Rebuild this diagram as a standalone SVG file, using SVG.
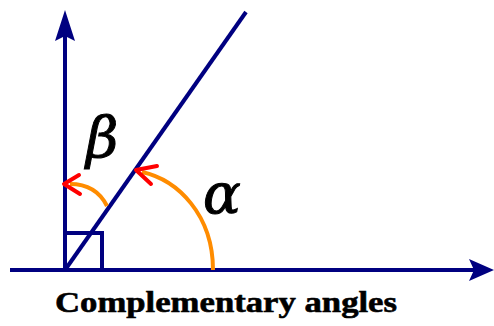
<svg xmlns="http://www.w3.org/2000/svg" width="494" height="326" viewBox="0 0 494 326">
<style>
.ln{stroke:#000080;stroke-width:4;fill:none}
.hd{fill:#000080}
.arc{stroke:#ff8c00;stroke-width:4;fill:none}
.rd{stroke:#ff0000;stroke-width:4;fill:none;stroke-linecap:round;stroke-linejoin:round}
.gr{font-family:"DejaVu Serif",serif;font-style:italic;fill:#000;stroke:#000;stroke-width:1}
.cap{font-family:"Liberation Serif",serif;font-weight:bold;font-size:30px;fill:#000;stroke:#000;stroke-width:0.6}
</style>
<rect width="494" height="326" fill="#fff"/>
<g id="axes">
<line class="ln" x1="10" y1="270" x2="478" y2="270"/>
<polygon class="hd" points="494,270 469,259 474,270 469,281"/>
<line class="ln" x1="65" y1="272" x2="65" y2="30"/>
<polygon class="hd" points="65,10 55,41 65,36 75,41"/>
<line class="ln" x1="65" y1="270" x2="246" y2="12"/>
<polyline class="ln" points="65,233 102,233 102,270"/>
</g>
<g id="alpha">
<path class="arc" d="M213,270 C213,215 178,180 142,172"/>
<polyline class="rd" points="157,166 136,170 151,184"/>
<text class="gr" x="203" y="213" font-size="56">α</text>
</g>
<g id="beta">
<path class="arc" d="M107,206 C100,192 88,184 70,184"/>
<polyline class="rd" points="79,175 64,184 80,194"/>
<text class="gr" x="86" y="157" font-size="56">β</text>
</g>
<text class="cap" x="55" y="312" textLength="342" lengthAdjust="spacingAndGlyphs">Complementary angles</text>
</svg>
